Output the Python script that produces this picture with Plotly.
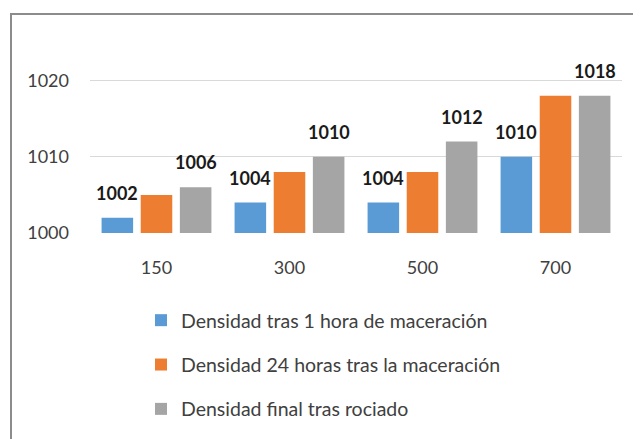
import plotly.graph_objects as go

categories = ["150", "300", "500", "700"]
series_names = [
    "Densidad tras 1 hora de maceración",
    "Densidad 24 horas tras la maceración",
    "Densidad final tras rociado",
]
blue_vals = [1002, 1004, 1004, 1010]
orange_vals = [1005, 1008, 1008, 1018]
gray_vals = [1006, 1010, 1012, 1018]
colors = ["#5B9BD5", "#ED7D31", "#A5A5A5"]
show_labels = [True, False, True]
y_ticks = [1000, 1010, 1020]

all_vals = [blue_vals, orange_vals, gray_vals]

FONT = "Lato, Liberation Sans, sans-serif"

fig = go.Figure()
for i, (name, vals, col) in enumerate(zip(series_names, all_vals, colors)):
    fig.add_trace(go.Bar(
        x=categories, y=vals, name=name,
        marker=dict(color=col, line=dict(width=0)),
        legendgroup=f"g{i}",
    ))

# plot geometry in screen pixels (page has an 8px body offset)
OFF = 8
PX0, PX1, PY0, PY1 = 90, 622, 79, 233   # plot area on screen
L, R = PX0 - OFF, 641 - (PX1 - OFF)
T, B = PY0 - OFF, 439 - (PY1 - OFF)
W = 641 - L - R
H = 439 - T - B
ymin, ymax = 1000, 1020.2
cat_px = W / len(categories)
bargap = 0.117
bargroupgap = 0.194
slot_px = cat_px * (1 - bargap) / 3


def px_x(sx):
    return (sx - PX0) / W


def px_y(sy):
    return (PY1 - sy) / H


annotations = []
for i, vals in enumerate(all_vals):
    if not show_labels[i]:
        continue
    for ci, v in enumerate(vals):
        annotations.append(dict(
            x=ci, y=v, xref="x", yref="y", text=f"<b>{v}</b>",
            showarrow=False, xanchor="center", yanchor="bottom",
            xshift=(i - 1) * slot_px, yshift=12,
            font=dict(family=FONT, size=18, color="#1a1a1a"),
        ))

fig.update_layout(
    width=641, height=439,
    margin=dict(l=L, r=R, t=T, b=B, pad=0),
    paper_bgcolor="white", plot_bgcolor="white",
    barmode="group", bargap=bargap, bargroupgap=bargroupgap,
    font=dict(family=FONT, size=19, color="#404040"),
    showlegend=True,
    legend=dict(
        orientation="v", x=px_x(141), y=px_y(301),
        xanchor="left", yanchor="top",
        font=dict(family=FONT, size=19.5, color="#404040"),
        tracegroupgap=16, itemwidth=30,
        bgcolor="rgba(0,0,0,0)",
    ),
    annotations=annotations,
    shapes=[dict(
        type="rect", xref="paper", yref="paper",
        x0=px_x(11), x1=px_x(680),
        y0=px_y(480), y1=px_y(14),
        line=dict(color="#8C8C8C", width=2), fillcolor="rgba(0,0,0,0)",
        layer="below",
    )],
)
fig.update_xaxes(
    type="category", range=[-0.5, len(categories) - 0.5],
    showgrid=False, showline=False, zeroline=False,
    ticks="", ticklabelstandoff=22,
    tickfont=dict(family=FONT, size=18, color="#404040"),
)
fig.update_yaxes(
    range=[ymin, ymax], tickvals=y_ticks,
    showgrid=True, gridcolor="#D9D9D9", gridwidth=1,
    zeroline=False, showline=False, ticks="", ticklabelstandoff=20,
    tickfont=dict(family=FONT, size=18, color="#404040"),
)

fig.write_html("out.html")
